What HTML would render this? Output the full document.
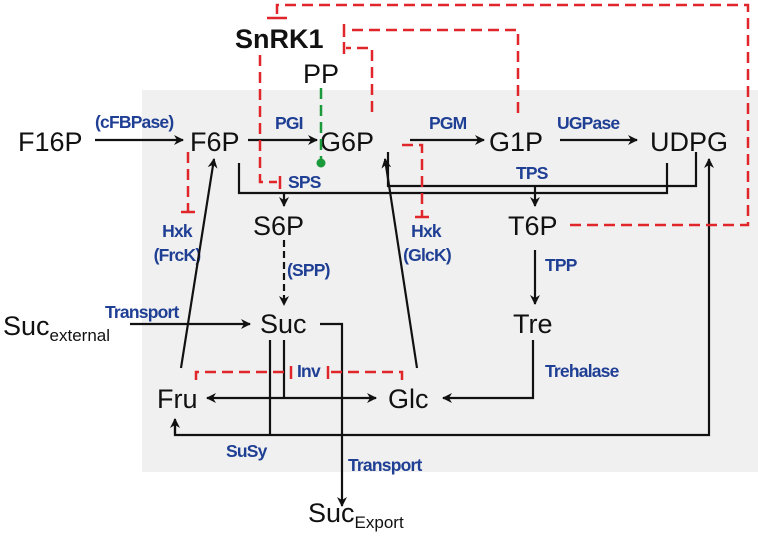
<!DOCTYPE html>
<html><head><meta charset="utf-8"><style>
html,body{margin:0;padding:0;background:#fff;}
svg{display:block;}
.n{font-family:"Liberation Sans",sans-serif;font-size:27px;fill:#111;}
.b{font-family:"Liberation Sans",sans-serif;font-size:17.5px;font-weight:bold;fill:#1f3f94;letter-spacing:-0.8px;}
.k{stroke:#111;stroke-width:2.2;fill:none;}
.r{stroke:#e0262b;stroke-width:2.5;fill:none;stroke-dasharray:11,6;}
.rs{stroke:#e0262b;stroke-width:2.5;fill:none;}
</style></head><body>
<svg width="758" height="544" viewBox="0 0 758 544" xmlns="http://www.w3.org/2000/svg">
<defs>
<marker id="a" viewBox="0 0 10 10" refX="9" refY="5" markerWidth="10" markerHeight="10" markerUnits="userSpaceOnUse" orient="auto"><path d="M0,0 L10,5 L0,10 L3,5 z" fill="#111"/></marker>
</defs>
<rect x="142" y="90" width="616" height="382" fill="#f0f0f0"/>

<text x="235" y="48" class="n" style="font-weight:bold">SnRK1</text>
<text x="303" y="83" class="n">PP</text>
<text x="18" y="151" class="n">F16P</text>
<text x="190" y="151" class="n">F6P</text>
<text x="320" y="151" class="n">G6P</text>
<text x="489" y="151" class="n">G1P</text>
<text x="650" y="151" class="n">UDPG</text>
<text x="253" y="235" class="n">S6P</text>
<text x="508" y="235" class="n">T6P</text>
<text x="260" y="333" class="n">Suc</text>
<text x="513" y="333" class="n">Tre</text>
<text x="157" y="408" class="n">Fru</text>
<text x="388" y="408" class="n">Glc</text>
<text x="3" y="335" class="n">Suc<tspan font-size="17" dy="6">external</tspan></text>
<text x="308" y="522" class="n">Suc<tspan font-size="17" dy="6">Export</tspan></text>

<text x="95" y="128" class="b">(cFBPase)</text>
<text x="275" y="129" class="b">PGI</text>
<text x="429" y="129" class="b">PGM</text>
<text x="557" y="129" class="b">UGPase</text>
<text x="288" y="188" class="b">SPS</text>
<text x="516" y="179" class="b">TPS</text>
<text x="177" y="237" class="b" text-anchor="middle">Hxk</text>
<text x="177" y="261" class="b" text-anchor="middle">(FrcK)</text>
<text x="426" y="237" class="b" text-anchor="middle">Hxk</text>
<text x="427" y="261" class="b" text-anchor="middle">(GlcK)</text>
<text x="287" y="276" class="b">(SPP)</text>
<text x="545" y="271" class="b">TPP</text>
<text x="105" y="318" class="b">Transport</text>
<text x="545" y="377" class="b">Trehalase</text>
<text x="297" y="377" class="b">Inv</text>
<text x="226" y="457" class="b">SuSy</text>
<text x="348" y="471" class="b">Transport</text>

<line x1="95" y1="140" x2="183" y2="140" class="k" marker-end="url(#a)"/>
<line x1="248" y1="140" x2="317" y2="140" class="k" marker-end="url(#a)"/>
<line x1="410" y1="140" x2="484" y2="140" class="k" marker-end="url(#a)"/>
<line x1="560" y1="140" x2="637" y2="140" class="k" marker-end="url(#a)"/>
<polyline points="239,163 239,193 667,193 667,163" class="k"/>
<line x1="284" y1="193" x2="284" y2="206" class="k" marker-end="url(#a)"/>
<polyline points="388,152 388,186 696,186 696,152" class="k"/>
<line x1="535" y1="186" x2="535" y2="206" class="k" marker-end="url(#a)"/>
<line x1="284" y1="240" x2="284" y2="305" class="k" stroke-dasharray="7,4" marker-end="url(#a)"/>
<line x1="535" y1="250" x2="535" y2="304" class="k" marker-end="url(#a)"/>
<line x1="130" y1="324" x2="250" y2="324" class="k" marker-end="url(#a)"/>
<polyline points="320,324 342,324 342,506" class="k" marker-end="url(#a)"/>
<line x1="284" y1="340" x2="284" y2="398" class="k"/>
<line x1="270" y1="340" x2="270" y2="435" class="k"/>
<line x1="284" y1="398" x2="207" y2="398" class="k" marker-end="url(#a)"/>
<line x1="284" y1="398" x2="376" y2="398" class="k" marker-end="url(#a)"/>
<polyline points="533,340 533,398 443,398" class="k" marker-end="url(#a)"/>
<polyline points="175,420 175,435 709,435 709,159" class="k" marker-end="url(#a)"/>
<line x1="175" y1="435" x2="175" y2="419" class="k" marker-end="url(#a)"/>
<line x1="181" y1="368" x2="214" y2="159" class="k" marker-end="url(#a)"/>
<line x1="417" y1="368" x2="385" y2="159" class="k" marker-end="url(#a)"/>

<line x1="321" y1="88" x2="321" y2="160" stroke="#1a9a3a" stroke-width="2.5" stroke-dasharray="11,6"/>
<circle cx="321" cy="163" r="4.5" fill="#1a9a3a"/>

<polyline points="260,55 260,182 277,182" class="r"/>
<line x1="280" y1="176" x2="280" y2="189" class="rs"/>
<polyline points="570,225 748,225 748,5 277,5 277,18" class="r"/>
<line x1="267" y1="18" x2="287" y2="18" class="rs"/>
<polyline points="518,113 518,30 346,30" class="r"/>
<line x1="344" y1="24" x2="344" y2="37" class="rs"/>
<polyline points="372,112 372,48 346,48" class="r"/>
<line x1="344" y1="42" x2="344" y2="54" class="rs"/>
<polyline points="402,145 422,145 422,216" class="r"/>
<line x1="415" y1="217" x2="429" y2="217" class="rs"/>
<line x1="188" y1="152" x2="188" y2="211" class="r"/>
<line x1="181" y1="212" x2="195" y2="212" class="rs"/>
<polyline points="196,380 196,372 289,372" class="r" stroke-dasharray="10,5"/>
<line x1="291" y1="366" x2="291" y2="379" class="rs"/>
<polyline points="402,380 402,372 330,372" class="r" stroke-dasharray="10,5"/>
<line x1="328" y1="366" x2="328" y2="379" class="rs"/>
</svg>
</body></html>
